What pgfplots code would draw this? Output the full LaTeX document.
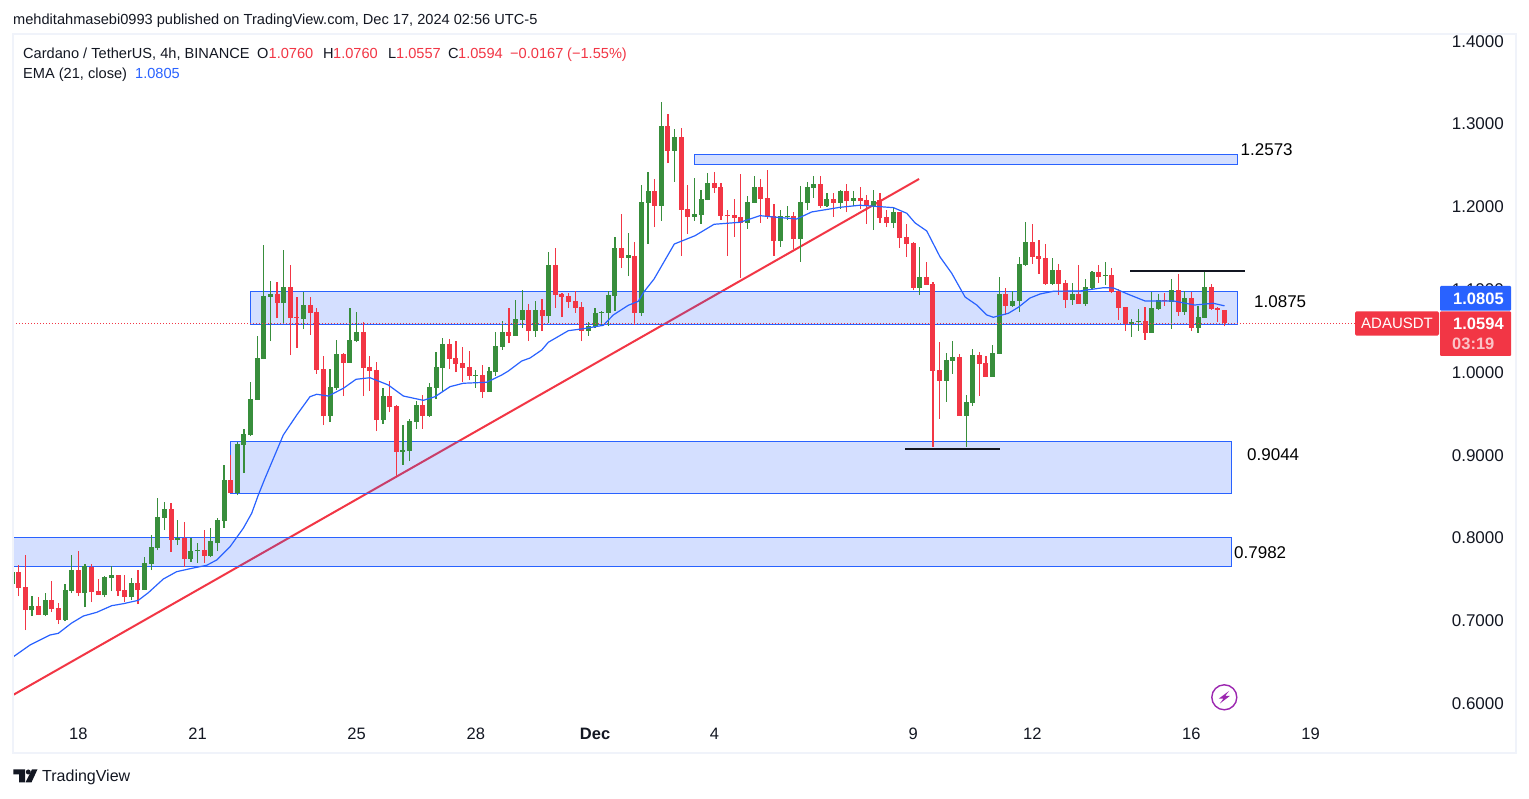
\documentclass[border=0pt]{standalone}
\usepackage{pgfplots}
\usepackage{pgfplotstable}
\usepackage{fontspec}
\setmainfont{Liberation Sans}
\pgfplotsset{compat=1.18}
\definecolor{tvgreen}{HTML}{388E3C}
\definecolor{tvred}{HTML}{F23645}
\definecolor{tvblue}{HTML}{2962FF}
\definecolor{tvink}{HTML}{131722}
\definecolor{tvframe}{HTML}{F0F3FA}
\definecolor{tvpurple}{HTML}{9C27B0}
\newcommand{\fs}[1]{\fontsize{#1pt}{#1pt}\selectfont}
\pgfplotstableread{
i L H B T
-10 .7445 .7590 .7445 .7590
-7 .7059 .7300 .7131 .7180
-5 .7059 .7337 .7071 .7252
-2 .6998 .7445 .7011 .7373
-1 .7337 .7796 .7361 .7614
1 .7168 .7687 .7337 .7663
4 .7288 .7542 .7313 .7530
5 .7361 .7663 .7518 .7554
8 .7252 .7518 .7288 .7457
10 .7373 .7771 .7373 .7699
11 .7614 .8037 .7687 .7892
12 .7856 .8484 .7880 .8255
13 .8098 .8436 .8243 .8351
15 .7916 .8218 .7977 .8001
17 .7711 .8001 .7747 .7844
18 .7699 .7941 .7844 .7856
20 .7771 .8122 .7784 .7965
21 .7844 .8243 .7941 .8218
22 .8122 .8883 .8206 .8701
24 .8520 .9160 .8544 .9136
25 .8786 .9317 .9124 .9257
26 .9233 .9885 .9245 .9680
27 .9668 1.0441 .9668 1.0175
28 1.0163 1.1540 1.0163 1.0924
29 1.0380 1.1105 1.0912 1.0948
31 1.0586 1.1479 1.0839 1.1033
34 1.0525 1.0972 1.0646 1.0815
38 .9402 1.0042 .9474 .9825
39 .9789 1.0392 .9813 1.0223
41 1.0115 1.0779 1.0115 1.0392
42 1.0368 1.0731 1.0380 1.0489
46 .9378 .9813 .9426 .9716
49 .8883 .9366 .9040 .9064
50 .8931 .9438 .9052 .9414
51 .9318 .9656 .9402 .9607
53 .9462 .9873 .9475 .9825
54 .9680 1.0248 .9813 1.0066
55 .9764 1.0417 1.0054 1.0344
60 .9813 1.0030 .9958 .9970
62 .9764 1.0066 .9764 1.0018
63 .9958 1.0489 1.0006 1.0320
64 1.0272 1.0622 1.0308 1.0489
66 1.0441 1.0876 1.0441 1.0646
67 1.0537 1.0996 1.0634 1.0755
69 1.0429 1.0864 1.0501 1.0755
71 1.0598 1.1455 1.0682 1.1298
77 1.0441 1.0610 1.0501 1.0562
78 1.0537 1.0779 1.0550 1.0719
79 1.0574 1.0743 1.0719 1.0731
80 1.0562 1.0984 1.0719 1.0936
81 1.0743 1.1637 1.0924 1.1504
83 1.1165 1.1685 1.1383 1.1419
85 1.0682 1.2265 1.0719 1.2059
86 1.1552 1.2422 1.2047 1.2192
88 1.1830 1.3267 1.2011 1.2977
90 1.2301 1.2941 1.2675 1.2844
93 1.1830 1.2349 1.1878 1.1914
94 1.1794 1.2204 1.1902 1.2096
95 1.2083 1.2410 1.2083 1.2289
101 1.1733 1.2132 1.1806 1.2059
102 1.2047 1.2373 1.2047 1.2240
106 1.1516 1.1963 1.1588 1.1890
107 1.1842 1.2011 1.1878 1.1890
109 1.1335 1.2253 1.1612 1.2059
110 1.1963 1.2301 1.2047 1.2240
111 1.2108 1.2373 1.2228 1.2277
113 1.1999 1.2168 1.2011 1.2096
115 1.1975 1.2204 1.2047 1.2192
117 1.2011 1.2192 1.2071 1.2108
120 1.1721 1.2204 1.2011 1.2071
123 1.1745 1.1987 1.1806 1.1938
127 1.0936 1.1516 1.1021 1.1153
131 .9644 1.0236 .9898 1.0152
132 .9982 1.0381 1.0139 1.0188
134 .9101 .9729 .9475 .9644
135 .9596 1.0284 .9632 1.0212
138 .9946 1.0333 .9946 1.0236
139 1.0224 1.1154 1.0224 1.0949
141 1.0792 1.0985 1.0804 1.0864
142 1.0731 1.1396 1.0864 1.1311
143 1.1287 1.1818 1.1299 1.1577
147 1.1057 1.1383 1.1069 1.1239
150 1.0816 1.1082 1.0876 1.0949
152 1.0804 1.1130 1.0828 1.1033
153 1.0997 1.1226 1.1021 1.1214
155 1.1057 1.1335 1.1166 1.1178
159 1.0429 1.0647 1.0586 1.0610
160 1.0502 1.0768 1.0610 1.0623
162 1.0478 1.0973 1.0478 1.0780
163 1.0755 1.0949 1.0768 1.0876
165 1.0526 1.1130 1.0852 1.0997
167 1.0695 1.0985 1.0731 1.0900
169 1.0478 1.0804 1.0538 1.0671
170 1.0659 1.1226 1.0659 1.1033
}\greencandles
\pgfplotstableread{
i L H B T
-9 .7300 .7675 .7397 .7590
-8 .6890 .7796 .7131 .7409
-6 .7071 .7288 .7071 .7180
-4 .7107 .7482 .7143 .7252
-3 .6962 .7216 .7011 .7156
0 .7300 .7844 .7337 .7614
2 .7228 .7687 .7349 .7651
3 .7313 .7506 .7313 .7361
6 .7300 .7554 .7361 .7554
7 .7228 .7554 .7288 .7373
9 .7204 .7614 .7373 .7457
14 .7832 .8424 .7977 .8351
16 .7651 .8194 .7747 .8001
19 .7699 .8098 .7784 .7856
23 .8544 .9003 .8544 .8701
30 1.0658 1.1093 1.0839 1.0948
32 1.0211 1.1298 1.0658 1.1033
33 1.0296 1.0912 1.0658 1.0670
35 1.0453 1.0912 1.0719 1.0815
36 .9982 1.0779 1.0030 1.0731
37 .9366 1.0199 .9474 1.0042
40 .9716 1.0236 1.0115 1.0223
43 .9716 1.0610 1.0054 1.0489
44 .9777 1.0199 1.0018 1.0066
45 .9293 1.0127 .9426 1.0030
47 .9523 .9897 .9583 .9716
48 .8738 .9607 .9040 .9595
52 .9318 .9728 .9475 .9607
56 1.0042 1.0405 1.0163 1.0344
57 1.0006 1.0380 1.0103 1.0175
58 .9885 1.0308 1.0054 1.0115
59 .9909 1.0260 .9958 1.0066
61 .9692 1.0091 .9764 .9970
65 1.0356 1.0779 1.0441 1.0489
68 1.0380 1.0827 1.0501 1.0755
70 1.0501 1.0888 1.0682 1.0755
72 1.0779 1.1504 1.0936 1.1298
73 1.0670 1.0960 1.0912 1.0948
74 1.0779 1.0960 1.0851 1.0924
75 1.0719 1.0984 1.0779 1.0864
76 1.0380 1.0851 1.0501 1.0791
82 1.1262 1.1914 1.1383 1.1504
84 1.0574 1.1576 1.0719 1.1407
87 1.1757 1.2337 1.2011 1.2192
89 1.2530 1.3122 1.2675 1.2977
91 1.1407 1.2953 1.1963 1.2844
92 1.1673 1.2265 1.1878 1.1975
96 1.2168 1.2422 1.2228 1.2289
97 1.1842 1.2289 1.1890 1.2240
98 1.1407 1.1963 1.1890 1.1902
99 1.1637 1.2096 1.1866 1.1902
100 1.1141 1.2397 1.1806 1.1878
103 1.1806 1.2337 1.2096 1.2240
104 1.1854 1.2446 1.1878 1.2108
105 1.1407 1.2035 1.1588 1.1890
108 1.1492 1.1938 1.1612 1.1890
112 1.1987 1.2373 1.2011 1.2277
114 1.1878 1.2168 1.2047 1.2096
116 1.1938 1.2277 1.2071 1.2192
118 1.1975 1.2240 1.2071 1.2108
119 1.1794 1.2144 1.2011 1.2083
121 1.1806 1.2168 1.1866 1.2083
122 1.1757 1.1963 1.1806 1.1878
124 1.1504 1.1938 1.1624 1.1938
125 1.1395 1.1794 1.1552 1.1637
126 1.0996 1.1576 1.1021 1.1564
128 1.1057 1.1335 1.1057 1.1153
129 .9101 1.1094 1.0019 1.1069
130 .9439 1.0369 .9898 1.0031
133 .9475 1.0224 .9475 1.0188
136 .9717 1.0248 1.0103 1.0212
137 .9946 1.0200 .9946 1.0115
140 1.0695 1.1021 1.0804 1.0949
144 1.1311 1.1794 1.1396 1.1577
145 1.1190 1.1601 1.1371 1.1408
146 1.1057 1.1553 1.1069 1.1383
148 1.0937 1.1311 1.1069 1.1239
149 1.0780 1.1118 1.0876 1.1082
151 1.0828 1.1299 1.0828 1.0949
154 1.1082 1.1299 1.1154 1.1214
156 1.0961 1.1263 1.0973 1.1178
157 1.0635 1.1009 1.0780 1.0985
158 1.0502 1.0792 1.0586 1.0792
161 1.0393 1.0792 1.0478 1.0623
164 1.0804 1.0961 1.0864 1.0876
166 1.0683 1.1190 1.0731 1.0997
168 1.0502 1.0973 1.0538 1.0900
171 1.0755 1.1069 1.0768 1.1033
172 1.0610 1.0792 1.0755 1.0780
173 1.0557 1.0760 1.0594 1.0760
}\redcandles
\begin{document}
\begin{tikzpicture}
\path[use as bounding box,fill=white] (0,0) rectangle (1529pt,798pt);
\begin{axis}[
  at={(13pt,44.5pt)},anchor=south west,
  scale only axis,width=1503pt,height=719.5pt,
  xmin=-9.857,xmax=217.0,ymin=.5399,ymax=1.4088,
  axis line style={draw=none},
  tick style={draw=none},
  major tick length=0pt,
  ytick={.6,.7,.8,.9,1,1.1,1.2,1.3,1.4},
  yticklabels={0.6000,0.7000,0.8000,0.9000,1.0000,1.1000,1.2000,1.3000,1.4000},
  yticklabel pos=right,
  yticklabel style={anchor=east,xshift=-12pt,font=\fs{17},text=tvink,inner sep=0pt},
  xtick={0,18,42,60,78,96,126,144,168,186},
  xticklabels={18,21,25,28,\textbf{Dec},4,9,12,16,19},
  xticklabel style={anchor=center,yshift=19.5pt,font=\fs{16.5},text=tvink,inner sep=0pt},
  no markers,
]
% trend line under the zones
\addplot[tvred,line width=2pt] coordinates {(-9.857,.6105) (126.9,1.2337)};
% zones
\addplot[draw=tvblue,line width=1.1pt,fill=tvblue,fill opacity=.2] coordinates {(92.98,1.2515) (174.94,1.2515) (174.94,1.2635) (92.98,1.2635)} -- cycle;
\addplot[draw=tvblue,line width=1.1pt,fill=tvblue,fill opacity=.2] coordinates {(25.96,1.0582) (174.94,1.0582) (174.94,1.0981) (25.96,1.0981)} -- cycle;
\addplot[draw=tvblue,line width=1.1pt,fill=tvblue,fill opacity=.2] coordinates {(22.94,.8541) (174.04,.8541) (174.04,.9169) (22.94,.9169)} -- cycle;
\addplot[draw=tvblue,line width=1.1pt,fill=tvblue,fill opacity=.2] coordinates {(-11,.7660) (174.04,.7660) (174.04,.8010) (-11,.8010)} -- cycle;
% candles
\addplot[tvgreen,line width=1.2pt,quiver={u=0,v=\thisrow{H}-\thisrow{L}}] table[x=i,y=L]{\greencandles};
\addplot[tvgreen,line width=5pt,quiver={u=0,v=\thisrow{T}-\thisrow{B}}] table[x=i,y=B]{\greencandles};
\addplot[tvred,line width=1.2pt,quiver={u=0,v=\thisrow{H}-\thisrow{L}}] table[x=i,y=L]{\redcandles};
\addplot[tvred,line width=5pt,quiver={u=0,v=\thisrow{T}-\thisrow{B}}] table[x=i,y=B]{\redcandles};
% EMA
\addplot[tvblue,line width=1.2pt,line join=round] coordinates {
(-9.86,.6564)(-7.29,.6709)(-5.78,.6770)(-4.27,.6830)(-3.02,.6850)(-1,.6975)(.75,.7059)(2.78,.7104)(5.04,.7184)(6.79,.7208)(9.06,.7249)(10.57,.7341)(12.83,.7506)(14.85,.7595)(17.12,.7635)(19.38,.7672)(20.89,.7736)(22.9,.7896)(24.9,.8119)(26.17,.8300)(27.17,.8521)(28.18,.8722)(30.94,.9245)(32.97,.9487)(34.97,.9708)(35.98,.9737)(37.74,.9716)(40,.9809)(41.92,.9918)(44.03,.9937)(46.79,.9849)(49.06,.9716)(52.08,.9664)(53.84,.9708)(56.11,.9829)(58.11,.9870)(61.64,.9882)(63.91,.9970)(64.91,1.0018)(66.93,1.0139)(68.18,1.0175)(69.95,1.0272)(70.94,1.0365)(73.96,1.0505)(76.23,1.0529)(79.25,1.0570)(80.75,1.0695)(83.02,1.0812)(84.53,1.0860)(85.39,1.0976)(86.9,1.1129)(89.96,1.1552)(93.09,1.1652)(95.96,1.1790)(99.88,1.1814)(102.9,1.1894)(104.9,1.1878)(108.44,1.1854)(110.7,1.1939)(114.97,1.1995)(117.99,1.2020)(123.02,1.1991)(125.04,1.1923)(126.3,1.1806)(128.06,1.1709)(130.07,1.1395)(131.83,1.1198)(133.84,1.0912)(135.6,1.0815)(137.12,1.0695)(138.11,1.0667)(140.38,1.0715)(141.89,1.0788)(143.65,1.0900)(145.16,1.0948)(147.17,1.0981)(151.2,1.0985)(154.72,1.1024)(156.23,1.1021)(158.25,1.0952)(161,1.0864)(165.3,1.0864)(168.5,1.0815)(171.3,1.0836)(173,1.0805)};
% last price
\addplot[tvred,line width=.8pt,dash pattern=on 1pt off 2pt] coordinates {(-9.857,1.0594) (192.7,1.0594)};
% black levels
\addplot[tvink,line width=2pt] coordinates {(124.8,.9080) (139.1,.9080)};
\addplot[tvink,line width=2pt] coordinates {(158.8,1.1230) (176.1,1.1230)};
\end{axis}
\begin{scope}[x=1pt,y=-1pt,shift={(0pt,798pt)}]
  % frame
  \draw[tvframe,line width=2pt] (13,34) rectangle (1516,753.5);
  % level labels
  \tikzset{lv/.style={anchor=west,inner sep=0pt,text=black,font=\fs{17}},hd/.style={anchor=base west,inner sep=0pt,text=tvink,font=\fs{14.6}}}
  \node[lv] at (1240.5,150) {1.2573};
  \node[lv] at (1254,302) {1.0875};
  \node[lv] at (1247,455) {0.9044};
  \node[lv] at (1234,553) {0.7982};
  % header
  \node[hd] at (13,25) {mehditahmasebi0993 published on TradingView.com, Dec 17, 2024 02:56 UTC-5};
  \node[hd] at (23,59) {Cardano / TetherUS, 4h, BINANCE};
  \node[hd] at (257,59) {O};
  \node[hd,text=tvred] at (268.5,59) {1.0760};
  \node[hd] at (323,59) {H};
  \node[hd,text=tvred] at (333,59) {1.0760};
  \node[hd] at (388,59) {L};
  \node[hd,text=tvred] at (396,59) {1.0557};
  \node[hd] at (448,59) {C};
  \node[hd,text=tvred] at (458,59) {1.0594};
  \node[hd,text=tvred] at (510,59) {−0.0167};
  \node[hd,text=tvred] at (567,59) {(−1.55\%)};
  \node[hd] at (23,79) {EMA (21, close)};
  \node[hd,text=tvblue] at (135,79) {1.0805};
  % price tags
  \fill[tvblue,rounded corners=1pt] (1440,286) rectangle (1511,310.7);
  \fill[tvred,rounded corners=1pt] (1440,311.3) rectangle (1511,356);
  \fill[tvred,rounded corners=1.5pt] (1355,311.3) rectangle (1439,335.7);
  \node[anchor=west,inner sep=0pt,text=white,font=\fs{16.5}\bfseries] at (1453,298.5) {1.0805};
  \node[anchor=west,inner sep=0pt,text=white,font=\fs{16.5}\bfseries] at (1453,323.5) {1.0594};
  \node[anchor=west,inner sep=0pt,text=white,text opacity=.7,font=\fs{16.5}\bfseries] at (1452,343.5) {03:19};
  \node[anchor=center,inner sep=0pt,text=white,font=\fs{15}] at (1397,323.5) {ADAUSDT};
  % lightning badge
  \draw[tvpurple,line width=1.4pt] (1224.3,697.3) circle (12.5);
  \fill[tvpurple] (1229,691) -- (1218.8,698.6) -- (1223.4,698.6) -- (1219.8,703.6) -- (1229.8,696) -- (1225.2,696) -- cycle;
  % TradingView logo
  \fill[tvink] (13.3,769.3) -- (25,769.3) -- (25,782.3) -- (19,782.3) -- (19,774.5) -- (13.3,774.5) -- cycle;
  \fill[tvink] (28.3,772) circle (2.5);
  \fill[tvink] (32,769.3) -- (37.5,769.3) -- (31.5,782.3) -- (25.5,782.3) -- cycle;
  \node[anchor=west,inner sep=0pt,text=tvink,font=\fs{16}] at (42,777) {TradingView};
\end{scope}
\end{tikzpicture}
\end{document}
